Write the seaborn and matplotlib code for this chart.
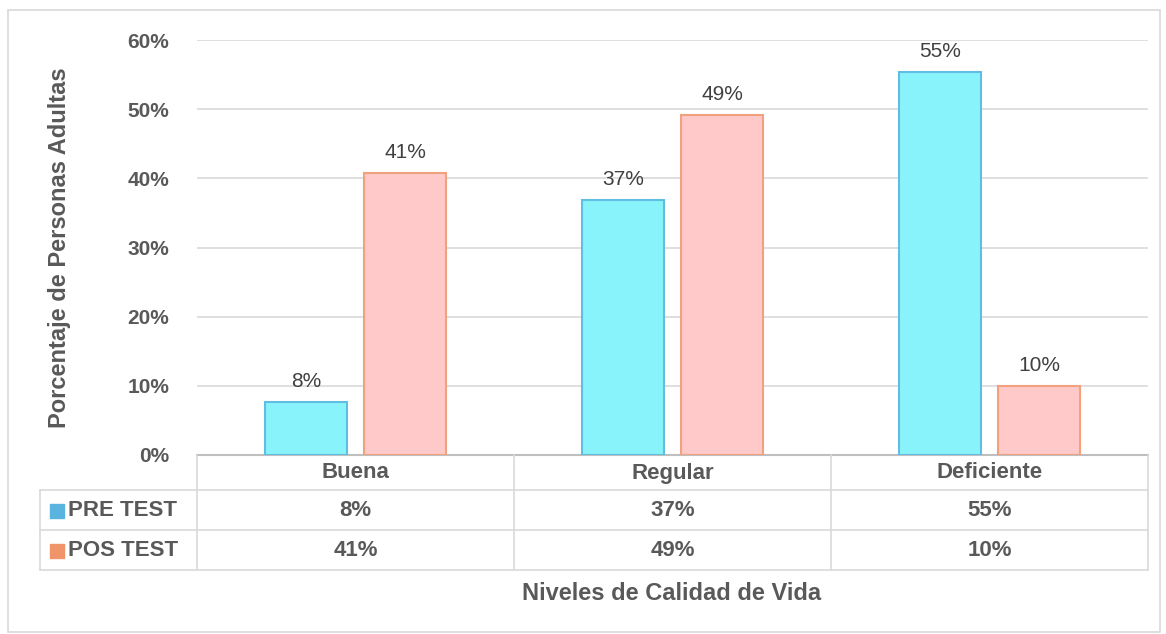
import pandas as pd
import matplotlib.pyplot as plt
import seaborn as sns
from matplotlib.patches import Rectangle

# data
niveles = ["Buena", "Regular", "Deficiente"]
series = ["PRE TEST", "POS TEST"]
pre_test = [7.7, 36.9, 55.4]
pos_test = [40.8, 49.2, 10.0]
pre_labels = ["8%", "37%", "55%"]
pos_labels = ["41%", "49%", "10%"]
y_ticks = [0, 10, 20, 30, 40, 50, 60]

df = pd.DataFrame({
    "Nivel": niveles * 2,
    "Serie": [series[0]] * 3 + [series[1]] * 3,
    "Valor": pre_test + pos_test,
})

sns.set_theme(style="white")
plt.rcParams["font.family"] = ["Liberation Sans Narrow", "Liberation Sans", "DejaVu Sans"]

W, H = 1166, 634
fig = plt.figure(figsize=(W / 100, H / 100), dpi=100)
ax = fig.add_axes([197 / W, 1 - 455 / H, (1148 - 197) / W, 415 / H])

fills = ["#88F3FB", "#FFC9C9"]
edges = ["#62BDE3", "#F2A17E"]
sns.barplot(data=df, x="Nivel", y="Valor", hue="Serie", order=niveles,
            hue_order=series, palette=fills, saturation=1, width=0.625, gap=0.17,
            legend=False, ax=ax, zorder=3)

for i, cont in enumerate(ax.containers):
    for bar in cont:
        bar.set_edgecolor(edges[i])
        bar.set_linewidth(1.5)
    ax.bar_label(cont, labels=[pre_labels, pos_labels][i], padding=8,
                 fontsize=15, color="#404040")

txt = "#595959"
grid = "#D9D9D9"
ax.set_ylim(0, 60)
ax.set_xlim(-0.5, 2.5)
ax.set_yticks(y_ticks)
ax.set_yticklabels([f"{t}%" for t in y_ticks], fontsize=15, fontweight="bold", color=txt)
ax.tick_params(axis="y", length=0, pad=20)
ax.set_xticks([])
ax.set_xlabel("")
ax.set_ylabel("")
ax.yaxis.grid(True, color=grid, linewidth=1.2, zorder=0)
for s in ["top", "right", "left"]:
    ax.spines[s].set_visible(False)
ax.spines["bottom"].set_color("#BFBFBF")
ax.spines["bottom"].set_linewidth(1.5)

# data table under the axis
def fy(py):
    return 1 - py / H

def fx(px):
    return px / W

col_x = [197, 514, 831, 1148]
for px in col_x:
    fig.add_artist(plt.Line2D([fx(px)] * 2, [fy(455), fy(570)], color=grid, lw=1.2))
fig.add_artist(plt.Line2D([fx(40)] * 2, [fy(490), fy(570)], color=grid, lw=1.2))
for py in [490, 530, 570]:
    fig.add_artist(plt.Line2D([fx(40), fx(1148)], [fy(py)] * 2, color=grid, lw=1.2))

for j, nivel in enumerate(niveles):
    cx = fx((col_x[j] + col_x[j + 1]) / 2)
    fig.text(cx, fy(473), nivel, ha="center", va="center", fontsize=16,
             fontweight="bold", color=txt)
    fig.text(cx, fy(511), pre_labels[j], ha="center", va="center", fontsize=16,
             fontweight="bold", color=txt)
    fig.text(cx, fy(551), pos_labels[j], ha="center", va="center", fontsize=16,
             fontweight="bold", color=txt)

key_colors = ["#5AB4E0", "#F0956A"]
for k, (name, py) in enumerate(zip(series, [511, 551])):
    fig.add_artist(Rectangle((fx(50), fy(py + 7)), 14 / W, 14 / H,
                             color=key_colors[k], transform=fig.transFigure))
    fig.text(fx(68), fy(py), name, ha="left", va="center", fontsize=16,
             fontweight="bold", color=txt)

fig.text(fx(60), fy(248), "Porcentaje de Personas Adultas", rotation=90,
         ha="center", va="center", fontsize=17, fontweight="bold", color=txt)
fig.text(fx(672), fy(593), "Niveles de Calidad de Vida", ha="center",
         va="center", fontsize=17, fontweight="bold", color=txt)

fig.add_artist(Rectangle((fx(8), fy(632)), (1160 - 8) / W, (632 - 10) / H,
                         fill=False, edgecolor="#D9D9D9", lw=1.2,
                         transform=fig.transFigure))

fig.savefig("out.png", dpi=100)
